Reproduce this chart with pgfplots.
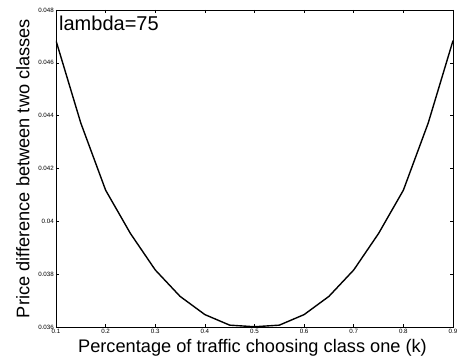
\documentclass[border=0pt]{standalone}
\usepackage{pgfplots}
\pgfplotsset{compat=1.18}
\usepackage{fontspec}
\setmainfont{Liberation Sans}

\pgfplotstableread{
k      diff
0.10   0.04684
0.15   0.04372
0.20   0.04118
0.25   0.03954
0.30   0.03816
0.35   0.03716
0.40   0.03647
0.45   0.03607
0.50   0.03601
0.55   0.03607
0.60   0.03647
0.65   0.03716
0.70   0.03816
0.75   0.03954
0.80   0.04118
0.85   0.04372
0.90   0.04684
}\pricedata

\begin{document}
\begin{tikzpicture}
\begin{axis}[
  scale only axis,
  width=397pt, height=317pt,
  xmin=0.1, xmax=0.9, ymin=0.036, ymax=0.048,
  xtick={0.1,0.2,...,0.9},
  ytick={0.036,0.038,0.04,0.042,0.044,0.046,0.048},
  scaled x ticks=false, scaled y ticks=false,
  /pgf/number format/assume math mode=true,
  xticklabel style={/pgf/number format/fixed, /pgf/number format/precision=1,
    font=\fontsize{6.2}{7}\selectfont, inner sep=1pt, yshift=-1pt},
  yticklabel style={/pgf/number format/fixed, /pgf/number format/precision=3,
    font=\fontsize{6.2}{7}\selectfont, inner sep=1pt, xshift=-1pt},
  tick align=inside,
  major tick length=3pt,
  tick style={black, line width=0.6pt},
  axis line style={black, line width=0.9pt},
  xlabel={Percentage of traffic choosing class one (k)},
  ylabel={Price difference between two classes},
  xlabel style={font=\fontsize{18.2}{20}\selectfont, inner sep=0pt,
    at={(axis description cs:0.495,-0.082)}, anchor=base},
  ylabel style={font=\fontsize{18.2}{20}\selectfont, inner sep=0pt,
    at={(axis description cs:-0.067,0.5)}, anchor=base},
]
\addplot[black, line width=1.4pt] table[x=k, y=diff] {\pricedata};
\node[anchor=base west, inner sep=0pt, font=\fontsize{20}{22}\selectfont]
  at (axis cs:0.106,0.04724) {lambda=75};
\end{axis}
\pgfresetboundingbox
\path ([xshift=-56pt,yshift=-35pt]current axis.south west)
  rectangle ([xshift=12pt,yshift=10pt]current axis.north east);
\end{tikzpicture}
\end{document}
